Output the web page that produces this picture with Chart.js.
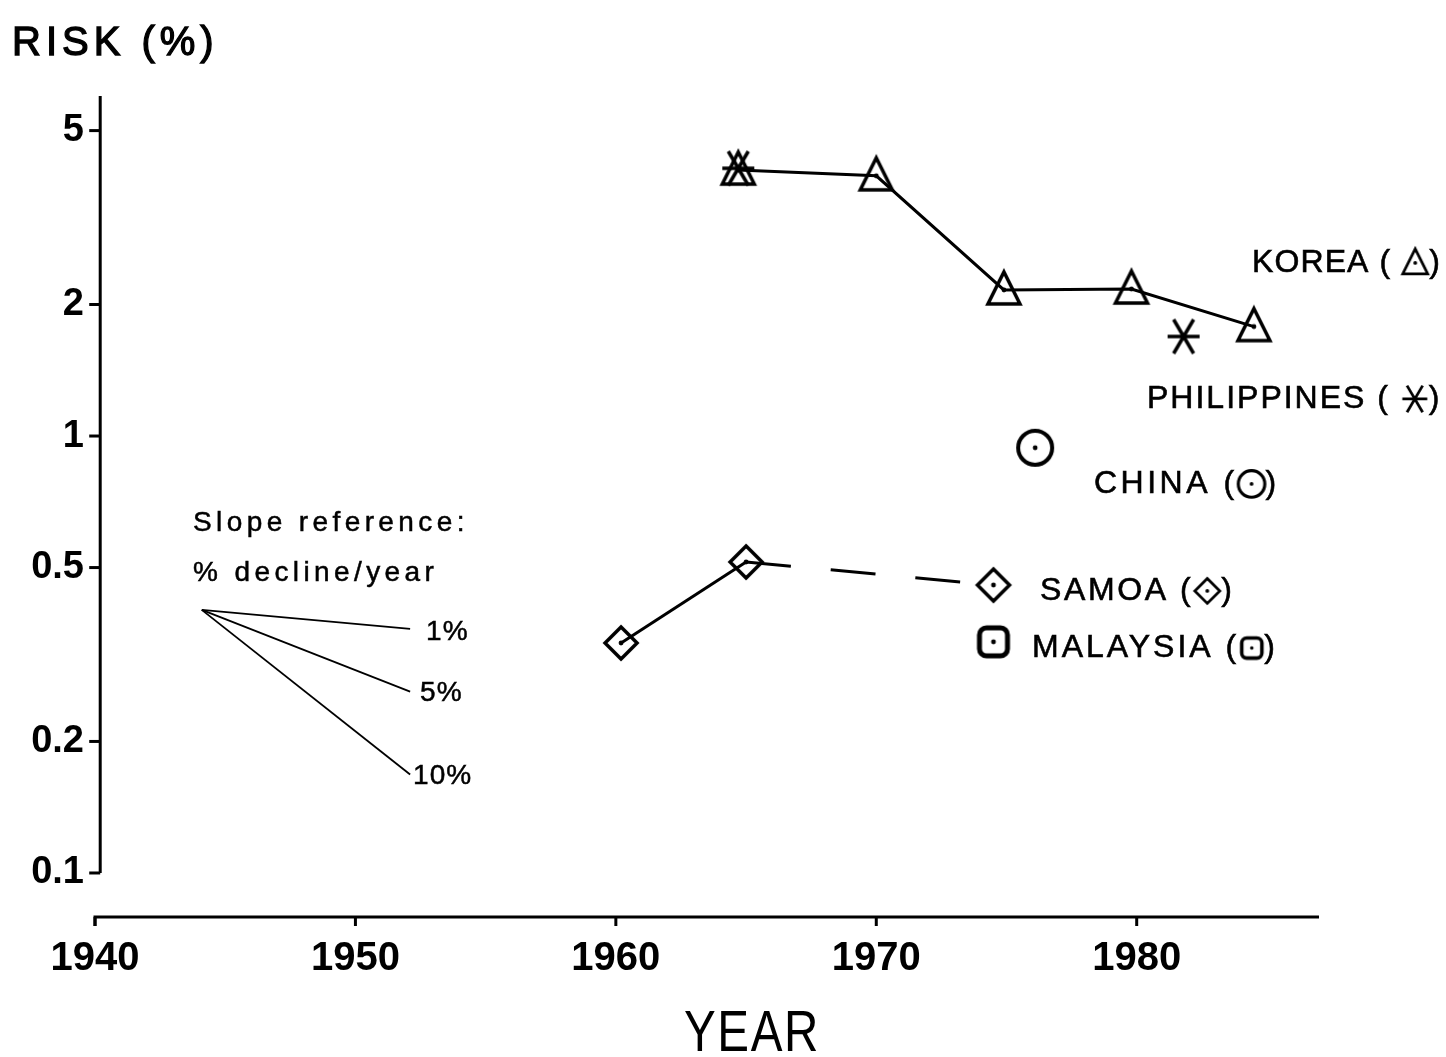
<!DOCTYPE html>
<html>
<head>
<meta charset="utf-8">
<script src="https://cdn.jsdelivr.net/npm/chart.js@4.4.1/dist/chart.umd.min.js"></script>
<style>
  html, body { margin: 0; padding: 0; background: #fff; }
  #wrap { width: 1446px; height: 1057px; position: relative; }
</style>
</head>
<body>
<div id="wrap"><canvas id="risk-chart"></canvas></div>
<script>
// Eixos
const xTicks = [1940, 1950, 1960, 1970, 1980];
const yTicks = [0.1, 0.2, 0.5, 1, 2, 5];

// Séries
const koreaYears = [1964.7, 1970, 1974.9, 1979.8, 1984.5];
const koreaRisk = [4.06, 3.94, 2.16, 2.17, 1.78];

const philippinesYears = [1964.7, 1981.8];
const philippinesRisk = [4.1, 1.69];

const chinaYears = [1976.1];
const chinaRisk = [0.94];

const samoaYears = [1960.2, 1965, 1974.5];
const samoaRisk = [0.336, 0.515, 0.456];

const malaysiaYears = [1974.5];
const malaysiaRisk = [0.338];

// Linhas de referência de inclinação
const slopeYears = [1944.1, 1952.1];
const slopeStartRisk = 0.4;
const slopeEndRisk = [0.362, 0.26, 0.168];
const slopeLabels = ['1%', '5%', '10%'];

const FONT = '"Liberation Sans", Arial, Helvetica, sans-serif';

// Marcadores desenhados num canvas
function makeMarker(kind, scale) {
    scale = scale || 1;
    const s = Math.round(46 * scale);
    const c = document.createElement('canvas');
    c.width = s; c.height = s;
    const g = c.getContext('2d');
    g.scale(scale, scale);
    const k = 23;
    g.strokeStyle = '#000';
    g.fillStyle = '#000';
    g.lineWidth = 3.5;
    g.lineJoin = 'miter';
    g.beginPath();
    if (kind === 'triangle') {
        g.moveTo(k, k - 18); g.lineTo(k + 16, k + 14); g.lineTo(k - 16, k + 14); g.closePath();
    } else if (kind === 'asterisk') {
        g.moveTo(k - 16, k); g.lineTo(k + 16, k);
        g.moveTo(k - 10, k - 17); g.lineTo(k + 10, k + 17);
        g.moveTo(k + 10, k - 17); g.lineTo(k - 10, k + 17);
    } else if (kind === 'circle') {
        g.lineWidth = 4;
        g.arc(k, k, 17, 0, Math.PI * 2);
    } else if (kind === 'diamond') {
        g.moveTo(k, k - 16); g.lineTo(k + 16, k); g.lineTo(k, k + 16); g.lineTo(k - 16, k); g.closePath();
    } else if (kind === 'square') {
        g.lineWidth = 5;
        g.roundRect(k - 14, k - 14, 28, 28, 7);
    }
    g.stroke();
    if (kind !== 'asterisk') {
        g.beginPath();
        g.arc(k, k, 2.4, 0, Math.PI * 2);
        g.fill();
    }
    return c;
}

const markers = {
    triangle: makeMarker('triangle'),
    asterisk: makeMarker('asterisk'),
    circle: makeMarker('circle'),
    diamond: makeMarker('diamond'),
    square: makeMarker('square')
};
const smallMarkers = {
    triangle: makeMarker('triangle', 0.78),
    asterisk: makeMarker('asterisk', 0.78),
    circle: makeMarker('circle', 0.78),
    diamond: makeMarker('diamond', 0.78),
    square: makeMarker('square', 0.72)
};

function pts(xs, ys) {
    return xs.map((x, i) => ({ x: x, y: ys[i] }));
}

const datasets = [
    {
        label: 'KOREA',
        data: pts(koreaYears, koreaRisk),
        showLine: true,
        borderColor: '#000',
        borderWidth: 3,
        pointStyle: markers.triangle,
        pointRadius: 18
    },
    {
        label: 'PHILIPPINES',
        data: pts(philippinesYears, philippinesRisk),
        showLine: false,
        pointStyle: markers.asterisk,
        pointRadius: 18
    },
    {
        label: 'CHINA',
        data: pts(chinaYears, chinaRisk),
        showLine: false,
        pointStyle: markers.circle,
        pointRadius: 18
    },
    {
        label: 'SAMOA',
        data: pts(samoaYears, samoaRisk),
        showLine: true,
        borderColor: '#000',
        borderWidth: 3,
        pointStyle: markers.diamond,
        pointRadius: 18,
        segment: {
            borderDash: ctx => ctx.p0DataIndex === 1 ? [45, 40] : undefined
        }
    },
    {
        label: 'MALAYSIA',
        data: pts(malaysiaYears, malaysiaRisk),
        showLine: false,
        pointStyle: markers.square,
        pointRadius: 18
    }
];

slopeEndRisk.forEach((v, i) => {
    datasets.push({
        label: 'slope ' + slopeLabels[i],
        data: pts(slopeYears, [slopeStartRisk, v]),
        showLine: true,
        borderColor: '#000',
        borderWidth: 1.8,
        pointRadius: 0
    });
});

// Eixos e textos desenhados à mão
const drawingPlugin = {
    id: 'drawing',
    afterDraw(chart) {
        const ctx = chart.ctx;
        const x = chart.scales.x;
        const y = chart.scales.y;
        const area = chart.chartArea;
        ctx.save();
        ctx.strokeStyle = '#000';
        ctx.fillStyle = '#000';
        ctx.lineWidth = 3;
        ctx.lineCap = 'butt';

        // eixo Y
        const axisX = x.getPixelForValue(1940.2);
        const yTop = y.getPixelForValue(6);
        const yBot = y.getPixelForValue(0.1);
        ctx.beginPath();
        ctx.moveTo(axisX, yTop);
        ctx.lineTo(axisX, yBot);
        ctx.stroke();
        yTicks.forEach(v => {
            const py = y.getPixelForValue(v);
            ctx.beginPath();
            ctx.moveTo(axisX - 11, py);
            ctx.lineTo(axisX, py);
            ctx.stroke();
        });

        // eixo X
        const py = area.bottom;
        ctx.beginPath();
        ctx.moveTo(x.getPixelForValue(1940), py + 9);
        ctx.lineTo(x.getPixelForValue(1940), py);
        ctx.lineTo(area.right, py);
        ctx.stroke();
        xTicks.forEach(v => {
            const px = x.getPixelForValue(v);
            ctx.beginPath();
            ctx.moveTo(px, py);
            ctx.lineTo(px, py + 9);
            ctx.stroke();
        });

        // títulos
        ctx.textBaseline = 'middle';
        ctx.textAlign = 'left';
        ctx.font = '40px ' + FONT;
        ctx.letterSpacing = '5px';
        ctx.lineWidth = 1.3;
        ctx.fillText('RISK (%)', 12, 44);
        ctx.strokeText('RISK (%)', 12, 44);

        ctx.save();
        ctx.translate(752, 1035);
        ctx.scale(0.82, 1);
        ctx.textAlign = 'center';
        ctx.letterSpacing = '2px';
        ctx.font = '58px ' + FONT;
        ctx.fillText('YEAR', 0, 0);
        ctx.restore();

        // rótulos dos países
        ctx.font = '32px ' + FONT;
        ctx.lineWidth = 0.6;
        const labels = [
            { name: 'KOREA', sym: 'triangle', x: 1252, y: 263, gap: ' ( ', sp: 1.1 },
            { name: 'PHILIPPINES', sym: 'asterisk', x: 1147, y: 399, gap: ' ( ', sp: 2.0 },
            { name: 'CHINA', sym: 'circle', x: 1094, y: 484, gap: ' (', sp: 3.5 },
            { name: 'SAMOA', sym: 'diamond', x: 1040, y: 591, gap: ' (', sp: 2.6 },
            { name: 'MALAYSIA', sym: 'square', x: 1032, y: 648, gap: ' (', sp: 3.0 }
        ];
        labels.forEach(l => {
            ctx.textAlign = 'left';
            ctx.letterSpacing = l.sp + 'px';
            const t = l.name + l.gap;
            ctx.fillText(t, l.x, l.y);
            ctx.strokeText(t, l.x, l.y);
            const w = ctx.measureText(t).width;
            const img = smallMarkers[l.sym];
            ctx.drawImage(img, l.x + w - 4, l.y - img.height / 2);
            const cx = l.x + w - 4 + img.width - 4;
            ctx.fillText(')', cx, l.y);
            ctx.strokeText(')', cx, l.y);
        });

        // referência de inclinação
        ctx.font = '28px ' + FONT;
        ctx.letterSpacing = '4.4px';
        ctx.lineWidth = 0.5;
        ctx.fillText('Slope reference:', 193, 523);
        ctx.strokeText('Slope reference:', 193, 523);
        ctx.fillText('% decline/year', 193, 573);
        ctx.strokeText('% decline/year', 193, 573);
        const endX = x.getPixelForValue(slopeYears[1]);
        const offs = [[16, 3], [10, 2], [3, 2]];
        slopeLabels.forEach((s, i) => {
            const ey = y.getPixelForValue(slopeEndRisk[i]);
            ctx.letterSpacing = '1px';
            ctx.fillText(s, endX + offs[i][0], ey + offs[i][1]);
            ctx.strokeText(s, endX + offs[i][0], ey + offs[i][1]);
        });
        ctx.restore();
    }
};

const chart = new Chart(document.getElementById('risk-chart'), {
    type: 'scatter',
    data: { datasets: datasets },
    options: {
        responsive: true,
        maintainAspectRatio: false,
        devicePixelRatio: 1,
        animation: false,
        layout: { padding: { top: 96, right: 127, left: 0, bottom: 0 } },
        plugins: {
            legend: { display: false },
            tooltip: { enabled: false }
        },
        scales: {
            x: {
                type: 'linear',
                min: 1940,
                max: 1987,
                grid: { display: false, drawTicks: false },
                border: { display: false },
                afterBuildTicks: s => { s.ticks = xTicks.map(v => ({ value: v })); },
                afterFit: s => { s.height = 140; },
                ticks: {
                    color: '#000',
                    padding: 18,
                    font: { family: FONT, size: 40, weight: 'bold' },
                    callback: v => String(v)
                }
            },
            y: {
                type: 'logarithmic',
                min: 0.0793,
                max: 6,
                grid: { display: false, drawTicks: false },
                border: { display: false },
                afterBuildTicks: s => { s.ticks = yTicks.map(v => ({ value: v })); },
                afterFit: s => { s.width = 95; },
                ticks: {
                    color: '#000',
                    padding: 11,
                    font: { family: FONT, size: 38, weight: 'bold' },
                    callback: v => String(v)
                }
            }
        }
    },
    plugins: [drawingPlugin]
});
</script>
</body>
</html>
